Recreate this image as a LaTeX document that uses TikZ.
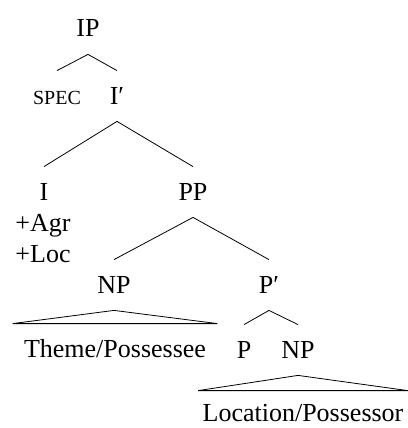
\documentclass[tikz,border=0pt]{standalone}
\usepackage{fontspec}
\setmainfont{Liberation Serif}
\usetikzlibrary{positioning}
\tikzstyle{cat}=[anchor=base,inner xsep=0pt,inner ysep=13pt,text height=20pt,text depth=4pt]
\tikzstyle{leaf}=[cat,inner xsep=11pt]
\tikzstyle{feat}=[anchor=base,inner sep=0pt]

\begin{document}
\begin{tikzpicture}[x=1pt,y=-1pt,line width=0.8pt,font=\fontsize{26}{30}\selectfont]
\useasboundingbox (0,0) rectangle (407,428);
    \node [cat] (IP) at (88,37) {IP};
    \node [cat,font=\fontsize{20}{22}\selectfont] (spec) at (57,104) {SPEC};
    \node [cat] (Ibar) at (117,104) {I′};
    \node [cat] (I) at (44,200) {I};
    \node [feat] (agr) at (43,231) {+Agr};
    \node [feat] (loc) at (43,262) {+Loc};
    \node [cat] (PP) at (193,200) {PP};
    \node [cat] (NPth) at (114,293) {NP};
    \node [cat] (Pbar) at (269,293) {P′};
    \node [leaf] (theme) at (115,357) {Theme/Possessee};
    \node [cat] (P) at (244,358) {P};
    \node [cat] (NPloc) at (298,358) {NP};
    \node [leaf,inner xsep=4pt,inner ysep=10pt] (location) at (303,421) {Location/Possessor};
  \draw (IP.south) -- (spec.north);
  \draw (IP.south) -- (Ibar.north);
  \draw (Ibar.south) -- (I.north);
  \draw (Ibar.south) -- (PP.north);
  \draw (PP.south) -- (NPth.north);
  \draw (PP.south) -- (Pbar.north);
  \draw (Pbar.south) -- (P.north);
  \draw (Pbar.south) -- (NPloc.north);
  \draw (NPth.south) -- (theme.north west) -- (theme.north east) -- cycle;
  \draw (NPloc.south) -- (location.north west) -- (location.north east) -- cycle;
\end{tikzpicture}
\end{document}
